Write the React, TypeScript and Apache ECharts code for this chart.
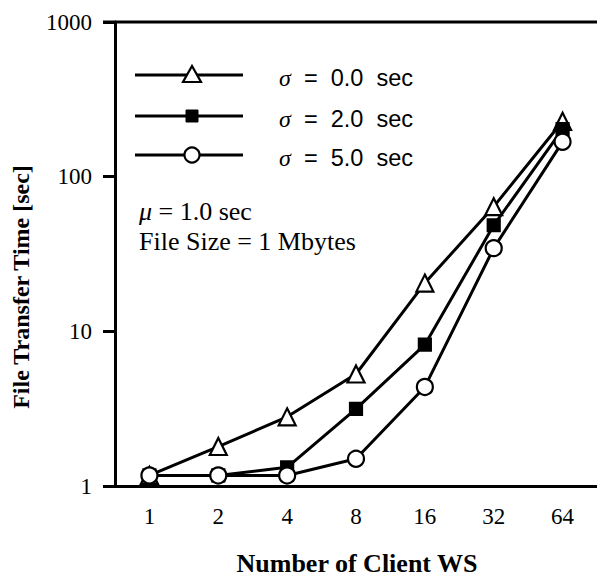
import React, { useEffect, useRef } from "react";
import * as echarts from "echarts";

const categories = ["1", "2", "4", "8", "16", "32", "64"];
const sigma0 = [1.17, 1.8, 2.8, 5.3, 20.5, 64, 228];
const sigma2 = [1.17, 1.17, 1.32, 3.15, 8.2, 48.5, 203];
const sigma5 = [1.17, 1.17, 1.17, 1.5, 4.37, 34.5, 168];
const legendLabels = ["=  0.0  sec", "=  2.0  sec", "=  5.0  sec"];

const SERIF = "'Liberation Serif', 'Times New Roman', serif";
const SANS = "'Liberation Sans', Arial, sans-serif";

export default function App() {
  const ref = useRef<HTMLDivElement>(null);
  useEffect(() => {
    if (!ref.current) return;
    const chart = echarts.init(ref.current, undefined, { renderer: "svg" });
    const lineStyle = { color: "#000", width: 3 };
    const mkSeries = (name: string, data: number[], symbol: string, size: number, fill: string) => ({
      name,
      type: "line",
      data,
      symbol,
      symbolSize: size,
      showAllSymbol: true,
      lineStyle,
      itemStyle: { color: fill, borderColor: "#000", borderWidth: 2.2 },
      z: 3,
    });
    const legendY = [75, 116, 155];
    const legendGraphics: any[] = [];
    legendY.forEach((y, i) => {
      legendGraphics.push({
        type: "line",
        shape: { x1: 135, y1: y, x2: 243, y2: y },
        style: { stroke: "#000", lineWidth: 3 },
        z: 10,
      });
      if (i === 0) {
        legendGraphics.push({
          type: "polygon",
          shape: { points: [[192, y - 9], [183, y + 7], [201, y + 7]] },
          style: { fill: "#fff", stroke: "#000", lineWidth: 2.2 },
          z: 11,
        });
      } else if (i === 1) {
        legendGraphics.push({
          type: "rect",
          shape: { x: 186, y: y - 6, width: 12, height: 12 },
          style: { fill: "#000", stroke: "#000", lineWidth: 1 },
          z: 11,
        });
      } else {
        legendGraphics.push({
          type: "circle",
          shape: { cx: 192, cy: y, r: 7.5 },
          style: { fill: "#fff", stroke: "#000", lineWidth: 2.2 },
          z: 11,
        });
      }
      legendGraphics.push({
        type: "text",
        x: 279,
        y: y + 3,
        style: {
          text: "{s|σ}{t|  " + legendLabels[i] + "}",
          verticalAlign: "middle",
          rich: {
            s: { fontFamily: SERIF, fontStyle: "italic", fontSize: 24, fill: "#000" },
            t: { fontFamily: SANS, fontSize: 23.5, fill: "#000" },
          },
        },
        z: 10,
      });
    });

    chart.setOption({
      animation: false,
      backgroundColor: "#fff",
      grid: { left: 115, top: 22, width: 485, height: 464 },
      xAxis: {
        type: "category",
        data: categories,
        boundaryGap: true,
        axisLine: { lineStyle: { color: "#000", width: 3 } },
        axisTick: { alignWithLabel: true, length: 12, lineStyle: { color: "#000", width: 3 } },
        axisLabel: { fontFamily: SERIF, fontSize: 23, color: "#000", margin: 19 },
        splitLine: { show: false },
      },
      yAxis: {
        type: "log",
        logBase: 10,
        min: 1,
        max: 1000,
        axisLine: { show: true, lineStyle: { color: "#000", width: 3 } },
        axisTick: { show: true, length: 12, lineStyle: { color: "#000", width: 3 } },
        minorTick: { show: false },
        axisLabel: {
          fontFamily: SERIF,
          fontSize: 23,
          color: "#000",
          margin: 23,
          formatter: (v: number) => String(Math.round(v)),
        },
        splitLine: { show: false },
      },
      series: [
        mkSeries("σ = 0.0 sec", sigma0, "triangle", 17, "#fff"),
        mkSeries("σ = 2.0 sec", sigma2, "rect", 12, "#000"),
        mkSeries("σ = 5.0 sec", sigma5, "circle", 16, "#fff"),
      ],
      graphic: [
        {
          type: "line",
          shape: { x1: 103, y1: 22, x2: 600, y2: 22 },
          style: { stroke: "#000", lineWidth: 3 },
          z: 10,
        },
        ...legendGraphics,
        {
          type: "text",
          x: 139,
          y: 211,
          style: {
            text: "{m|μ} = 1.0 sec",
            fontFamily: SERIF,
            fontSize: 26,
            fill: "#000",
            verticalAlign: "middle",
            rich: { m: { fontFamily: SERIF, fontStyle: "italic", fontSize: 26, fill: "#000" } },
          },
          z: 10,
        },
        {
          type: "text",
          x: 139,
          y: 241,
          style: {
            text: "File Size = 1 Mbytes",
            fontFamily: SERIF,
            fontSize: 26,
            fill: "#000",
            verticalAlign: "middle",
          },
          z: 10,
        },
        {
          type: "text",
          x: 357,
          y: 563,
          style: {
            text: "Number of Client WS",
            fontFamily: SERIF,
            fontWeight: "bold",
            fontSize: 26,
            fill: "#000",
            align: "center",
            verticalAlign: "middle",
          },
          z: 10,
        },
        {
          type: "text",
          x: 21,
          y: 287,
          rotation: Math.PI / 2,
          style: {
            text: "File Transfer Time [sec]",
            fontFamily: SERIF,
            fontWeight: "bold",
            fontSize: 24,
            fill: "#000",
            align: "center",
            verticalAlign: "middle",
          },
          z: 10,
        },
      ],
    });
    return () => chart.dispose();
  }, []);
  return <div ref={ref} style={{ width: 597, height: 579, position: "absolute", left: 0, top: 0 }} />;
}
